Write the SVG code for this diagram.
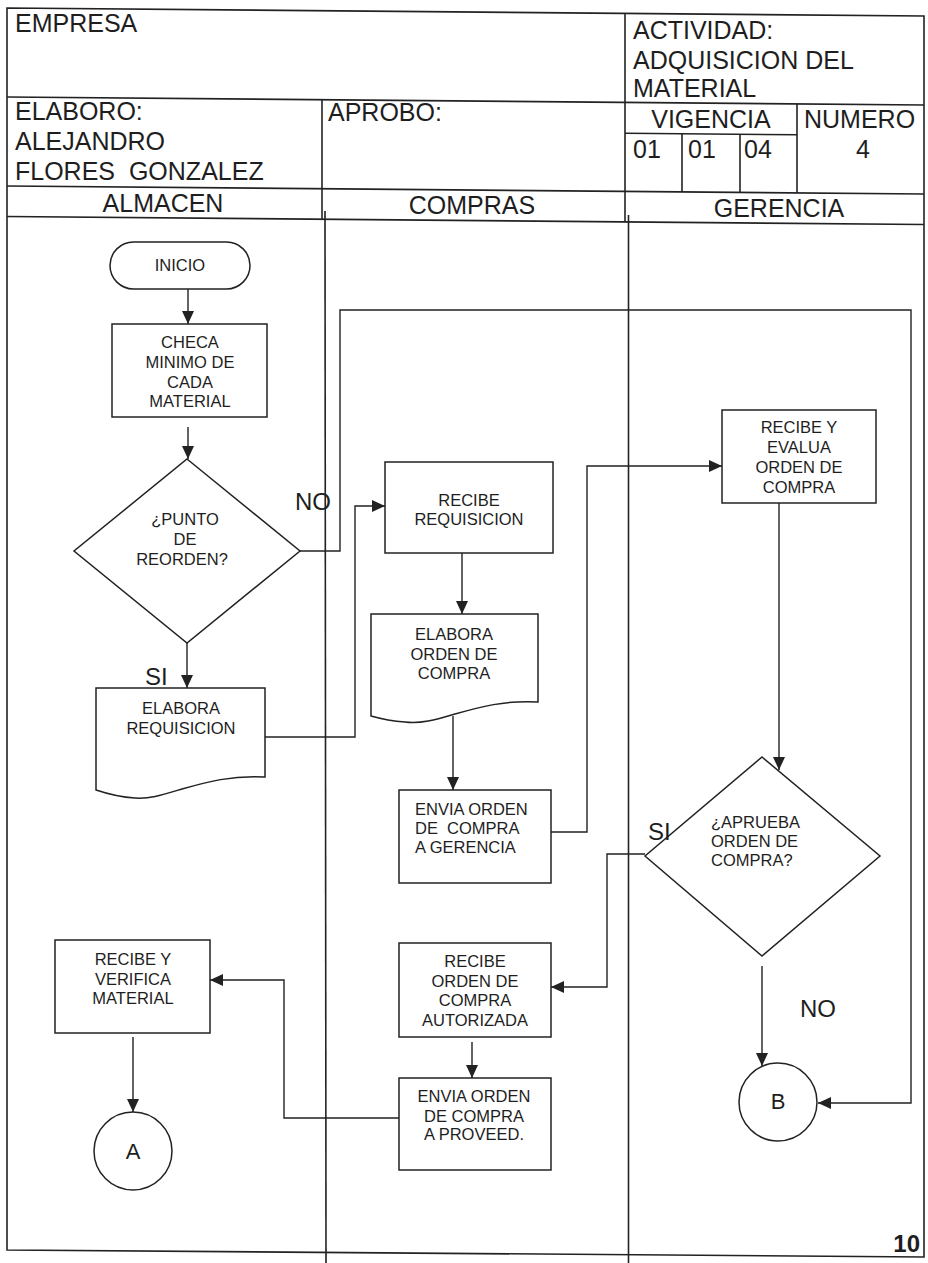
<svg xmlns="http://www.w3.org/2000/svg" width="928" height="1263" viewBox="0 0 928 1263">
  <style>
    .frame { fill: none; stroke: #222; stroke-width: 1.6; }
    .shape { fill: #fff; stroke: #222; stroke-width: 1.5; }
    .conn { fill: none; stroke: #222; stroke-width: 1.4; marker-end: url(#ah); }
    .plain { fill: none; stroke: #222; stroke-width: 1.4; }
    .hd { font-family: "Liberation Sans", Arial, sans-serif; font-size: 25px; fill: #1e1e1e; }
    .nt { font-family: "Liberation Sans", Arial, sans-serif; font-size: 16.5px; fill: #1e1e1e; text-anchor: middle; }
    .ntl { font-family: "Liberation Sans", Arial, sans-serif; font-size: 16.5px; fill: #1e1e1e; }
    .lbl { font-family: "Liberation Sans", Arial, sans-serif; font-size: 24px; fill: #1e1e1e; }
    .cl { font-family: "Liberation Sans", Arial, sans-serif; font-size: 22px; fill: #1e1e1e; text-anchor: middle; }
  </style>
  <defs>
    <marker id="ah" markerUnits="userSpaceOnUse" markerWidth="14" markerHeight="12" refX="13" refY="6" orient="auto">
      <path d="M0,0 L13,6 L0,12 z" fill="#222"/>
    </marker>
  </defs>

  <rect width="928" height="1263" fill="#fff"/>

  <!-- form header and swimlane frame -->
  <g id="header">
    <polygon class="frame" points="7,8 924,16 924,1257 7,1250"/>
    <line class="frame" x1="7" y1="97" x2="924" y2="105"/>
    <line class="frame" x1="7" y1="186" x2="924" y2="194"/>
    <line class="frame" x1="7" y1="216.5" x2="924" y2="224.5"/>
    <line class="frame" x1="625" y1="13" x2="625" y2="222"/>
    <line class="frame" x1="322" y1="100" x2="322" y2="219"/>
    <line class="frame" x1="797" y1="104" x2="797" y2="193"/>
    <line class="frame" x1="625" y1="133.2" x2="797" y2="134.8"/>
    <line class="frame" x1="682" y1="134" x2="682" y2="192"/>
    <line class="frame" x1="740" y1="134" x2="740" y2="193"/>

    <text class="hd" x="15" y="32">EMPRESA</text>
    <text class="hd" x="633" y="39">ACTIVIDAD:</text>
    <text class="hd" x="633" y="69">ADQUISICION DEL</text>
    <text class="hd" x="633" y="97">MATERIAL</text>
    <text class="hd" x="15" y="120">ELABORO:</text>
    <text class="hd" x="15" y="150">ALEJANDRO</text>
    <text class="hd" x="15" y="180" xml:space="preserve">FLORES  GONZALEZ</text>
    <text class="hd" x="328" y="121">APROBO:</text>
    <text class="hd" x="711" y="128" text-anchor="middle">VIGENCIA</text>
    <text class="hd" x="804" y="128">NUMERO</text>
    <text class="hd" x="633" y="158">01</text>
    <text class="hd" x="688" y="158">01</text>
    <text class="hd" x="744" y="158">04</text>
    <text class="hd" x="863" y="158" text-anchor="middle">4</text>
    <text class="hd" x="163" y="212" text-anchor="middle">ALMACEN</text>
    <text class="hd" x="472" y="214" text-anchor="middle">COMPRAS</text>
    <text class="hd" x="779" y="217" text-anchor="middle">GERENCIA</text>
  </g>

  <!-- lane dividers -->
  <g id="lanes">
    <line class="frame" x1="325" y1="211" x2="326" y2="1263"/>
    <line class="frame" x1="628.5" y1="215" x2="628.5" y2="1263"/>
  </g>

  <!-- connectors -->
  <g id="connectors">
    <path class="conn" d="M188,289 V324"/>
    <path class="conn" d="M188,427 V459"/>
    <path class="conn" d="M187,643 V688"/>
    <path class="conn" d="M265,737 H355 V506 H385"/>
    <path class="conn" d="M300,551 H340 V310 H911 V1103 H818"/>
    <path class="conn" d="M462,553 V614"/>
    <path class="conn" d="M453,716 V790"/>
    <path class="conn" d="M551,832 H587 V466 H722"/>
    <path class="conn" d="M779,503 V770"/>
    <path class="conn" d="M645,854 H607 V987 H551"/>
    <path class="conn" d="M762,966 V1066"/>
    <path class="conn" d="M472,1042 V1078"/>
    <path class="conn" d="M399,1118 H284 V980 H210"/>
    <path class="conn" d="M133,1037 V1112"/>
  </g>

  <!-- almacen lane -->
  <g id="inicio">
    <rect class="shape" x="110" y="242" width="140" height="47" rx="23.5"/>
    <text class="nt" x="180" y="271">INICIO</text>
  </g>
  <g id="checa-minimo">
    <rect class="shape" x="112" y="324" width="155" height="93"/>
    <text class="nt" x="190" y="348">CHECA</text>
    <text class="nt" x="190" y="368">MINIMO DE</text>
    <text class="nt" x="190" y="388">CADA</text>
    <text class="nt" x="190" y="407">MATERIAL</text>
  </g>
  <g id="punto-reorden">
    <polygon class="shape" points="187,459 300,551 187,643 74,551"/>
    <text class="nt" x="185" y="525">¿PUNTO</text>
    <text class="nt" x="185" y="545">DE</text>
    <text class="nt" x="182" y="565">REORDEN?</text>
  </g>
  <g id="elabora-requisicion">
    <path class="shape" d="M96,688 H265 V777 C232,775 207,782 182,789 C162,795 150,799 135,798 C118,797 105,793 96,790 Z"/>
    <text class="nt" x="181" y="714">ELABORA</text>
    <text class="nt" x="181" y="734">REQUISICION</text>
  </g>
  <g id="recibe-verifica">
    <rect class="shape" x="55" y="940" width="155" height="93"/>
    <text class="nt" x="133" y="965">RECIBE Y</text>
    <text class="nt" x="133" y="985">VERIFICA</text>
    <text class="nt" x="133" y="1004">MATERIAL</text>
  </g>
  <g id="conector-a">
    <circle class="shape" cx="133" cy="1151" r="39"/>
    <text class="cl" x="133" y="1159">A</text>
  </g>

  <!-- compras lane -->
  <g id="recibe-requisicion">
    <rect class="shape" x="385" y="462" width="168" height="91"/>
    <text class="nt" x="469" y="506">RECIBE</text>
    <text class="nt" x="469" y="525">REQUISICION</text>
  </g>
  <g id="elabora-orden">
    <path class="shape" d="M371,614 H538 V702 C505,700 480,707 455,714 C435,720 420,724 405,722 C390,721 378,718 371,716 Z"/>
    <text class="nt" x="454" y="640">ELABORA</text>
    <text class="nt" x="454" y="660">ORDEN DE</text>
    <text class="nt" x="454" y="679">COMPRA</text>
  </g>
  <g id="envia-gerencia">
    <rect class="shape" x="399" y="790" width="152" height="93"/>
    <text class="ntl" x="415" y="815">ENVIA ORDEN</text>
    <text class="ntl" x="415" y="834" xml:space="preserve">DE  COMPRA</text>
    <text class="ntl" x="415" y="853">A GERENCIA</text>
  </g>
  <g id="recibe-autorizada">
    <rect class="shape" x="399" y="943" width="152" height="94"/>
    <text class="nt" x="475" y="967">RECIBE</text>
    <text class="nt" x="475" y="987">ORDEN DE</text>
    <text class="nt" x="475" y="1006">COMPRA</text>
    <text class="nt" x="475" y="1026">AUTORIZADA</text>
  </g>
  <g id="envia-proveedor">
    <rect class="shape" x="399" y="1078" width="152" height="92"/>
    <text class="nt" x="474" y="1102">ENVIA ORDEN</text>
    <text class="nt" x="474" y="1122">DE COMPRA</text>
    <text class="nt" x="474" y="1140">A PROVEED.</text>
  </g>

  <!-- gerencia lane -->
  <g id="recibe-evalua">
    <rect class="shape" x="722" y="410" width="154" height="93"/>
    <text class="nt" x="799" y="433">RECIBE Y</text>
    <text class="nt" x="799" y="453">EVALUA</text>
    <text class="nt" x="799" y="473">ORDEN DE</text>
    <text class="nt" x="799" y="493">COMPRA</text>
  </g>
  <g id="aprueba-orden">
    <polygon class="shape" points="762,757 880,856 762,956 645,856"/>
    <text class="ntl" x="711" y="828">¿APRUEBA</text>
    <text class="ntl" x="711" y="847">ORDEN DE</text>
    <text class="ntl" x="711" y="866">COMPRA?</text>
  </g>
  <g id="conector-b">
    <circle class="shape" cx="778" cy="1102" r="39"/>
    <text class="cl" x="778" y="1109">B</text>
  </g>

  <!-- branch labels and page number -->
  <g id="labels">
    <text class="lbl" x="295" y="510">NO</text>
    <text class="lbl" x="145" y="685">SI</text>
    <text class="lbl" x="648" y="840">SI</text>
    <text class="lbl" x="800" y="1017">NO</text>
    <text class="lbl" x="920" y="1252" text-anchor="end" font-weight="bold" font-size="23">10</text>
  </g>
</svg>
